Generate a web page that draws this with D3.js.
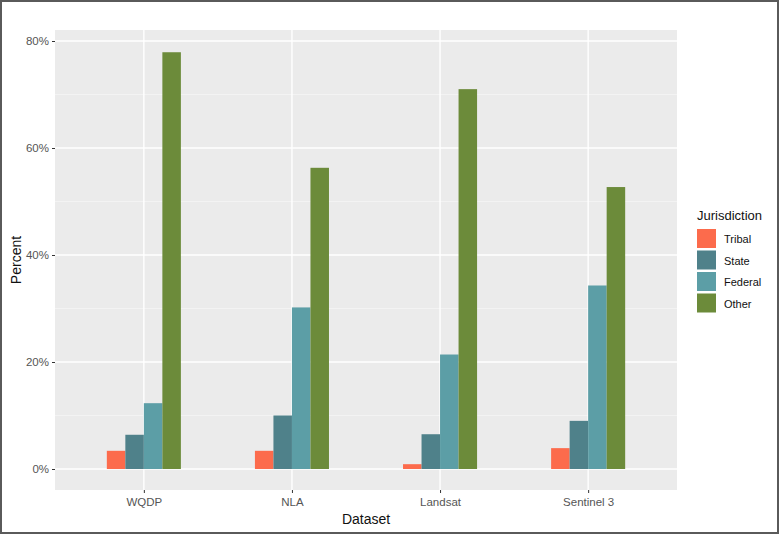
<!DOCTYPE html>
<html>
<head>
<meta charset="utf-8">
<script src="https://cdn.jsdelivr.net/npm/d3@7"></script>
<style>
body { margin: 0; background: #fff; }
text { font-family: "Liberation Sans", Arial, sans-serif; }
</style>
</head>
<body>
<svg id="chart" width="780" height="535"></svg>
<script>
// data
let datasets = ["WQDP", "NLA", "Landsat", "Sentinel 3"];
let jurisdictions = ["Tribal", "State", "Federal", "Other"];
let tribal = [3.4, 3.4, 0.9, 3.9];
let state = [6.4, 10.0, 6.5, 9.0];
let federal = [12.3, 30.2, 21.4, 34.3];
let other = [77.9, 56.3, 71.0, 52.7];
let yTicks = [0, 20, 40, 60, 80];
let yMinor = [10, 30, 50, 70];
let colors = ["#FC6B4C", "#4F818A", "#5C9EA6", "#6C8B3A"];

let series = [tribal, state, federal, other];

let svg = d3.select("#chart");

// outer frame
svg.append("rect")
    .attr("x", 1).attr("y", 1)
    .attr("width", 777).attr("height", 532)
    .attr("fill", "white")
    .attr("stroke", "#5a5a5a")
    .attr("stroke-width", 2);

let pLeft = 55, pRight = 677, pTop = 30, pBottom = 490;

// discrete x with ggplot style expansion of 0.6
let step = (pRight - pLeft) / (datasets.length - 1 + 1.2);
let x = d3.scalePoint().domain(datasets)
    .range([pLeft + 0.6 * step, pRight - 0.6 * step]);
let y = d3.scaleLinear().domain([0, 80]).range([469, 41]);

let dodge = 0.5 * step;
let barW = dodge / jurisdictions.length;

// panel
svg.append("rect")
    .attr("x", pLeft).attr("y", pTop)
    .attr("width", pRight - pLeft).attr("height", pBottom - pTop)
    .attr("fill", "#EBEBEB");

let grid = svg.append("g");
grid.selectAll(".minor").data(yMinor).join("line")
    .attr("x1", pLeft).attr("x2", pRight)
    .attr("y1", d => y(d)).attr("y2", d => y(d))
    .attr("stroke", "#f7f7f7").attr("stroke-width", 0.7);
grid.selectAll(".major").data(yTicks).join("line")
    .attr("x1", pLeft).attr("x2", pRight)
    .attr("y1", d => y(d)).attr("y2", d => y(d))
    .attr("stroke", "white").attr("stroke-width", 1.4);
grid.selectAll(".vmajor").data(datasets).join("line")
    .attr("x1", d => x(d)).attr("x2", d => x(d))
    .attr("y1", pTop).attr("y2", pBottom)
    .attr("stroke", "white").attr("stroke-width", 1.4);

// bars
series.forEach(function(vals, j) {
    svg.append("g").selectAll("rect").data(vals).join("rect")
        .attr("x", (d, i) => x(datasets[i]) - dodge / 2 + j * barW)
        .attr("width", barW)
        .attr("y", d => y(d))
        .attr("height", d => y(0) - y(d))
        .attr("fill", colors[j]);
});

// y axis
let yAxis = svg.append("g")
    .attr("transform", "translate(" + pLeft + ",0)")
    .call(d3.axisLeft(y).tickValues(yTicks).tickFormat(d => d + "%").tickSize(3).tickPadding(3));
yAxis.select(".domain").remove();
yAxis.selectAll("line").attr("stroke", "#333");
yAxis.selectAll("text").style("fill", "#555555").style("font-size", "11.5px");

// x axis
let xAxis = svg.append("g")
    .attr("transform", "translate(0," + pBottom + ")")
    .call(d3.axisBottom(x).tickSize(3).tickPadding(5));
xAxis.select(".domain").remove();
xAxis.selectAll("line").attr("stroke", "#333");
xAxis.selectAll("text").style("fill", "#555555").style("font-size", "11.5px");

// axis titles
svg.append("text")
    .attr("x", (pLeft + pRight) / 2).attr("y", 524)
    .attr("text-anchor", "middle")
    .style("font-size", "14px")
    .style("fill", "#111")
    .text("Dataset");

svg.append("text")
    .attr("transform", "translate(21," + ((pTop + pBottom) / 2) + ") rotate(-90)")
    .attr("text-anchor", "middle")
    .style("font-size", "14px")
    .style("fill", "#111")
    .text("Percent");

// legend
let legend = svg.append("g").attr("transform", "translate(697,0)");
legend.append("text")
    .attr("x", 0).attr("y", 220)
    .style("font-size", "13px")
    .style("fill", "#111")
    .text("Jurisdiction");

let keys = legend.selectAll(".key").data(jurisdictions).join("g")
    .attr("transform", (d, i) => "translate(0," + (229 + i * 21.5) + ")");
keys.append("rect")
    .attr("width", 19).attr("height", 19)
    .attr("fill", (d, i) => colors[i]);
keys.append("text")
    .attr("x", 27).attr("y", 14)
    .style("font-size", "11px")
    .style("fill", "#111")
    .text(d => d);
</script>
</body>
</html>
